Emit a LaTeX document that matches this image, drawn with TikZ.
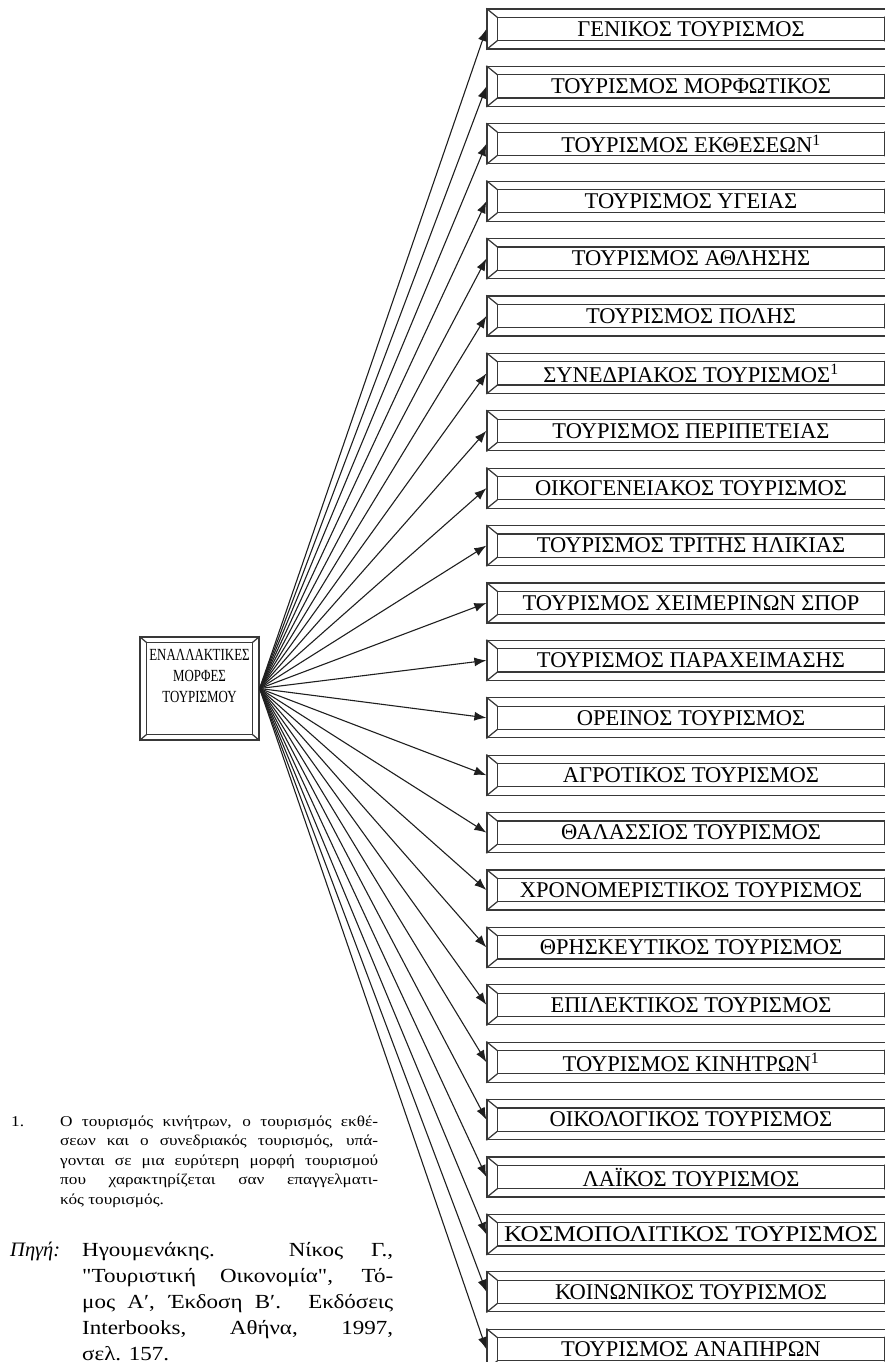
\documentclass[tikz,border=0pt]{standalone}
\usepackage{fontspec}
\setmainfont{Liberation Serif}
\newfontfamily\notefont[FakeStretch=1.15, Ligatures=TeXOff]{Liberation Serif}
\usetikzlibrary{arrows.meta}

% draws the inner frame and the corner mitres of a bevelled box
\newcommand\bevelframe[3]{%
  \draw[frame] ([shift={(#2,#3)}]#1.north west) rectangle ([shift={(-#2,-#3)}]#1.south east);
  \draw[frame] (#1.north west) -- ([shift={(#2,#3)}]#1.north west);
  \draw[frame] (#1.north east) -- ([shift={(-#2,#3)}]#1.north east);
  \draw[frame] (#1.south west) -- ([shift={(#2,-#3)}]#1.south west);
  \draw[frame] (#1.south east) -- ([shift={(-#2,-#3)}]#1.south east);
}
\newcommand\narrow[1]{\scalebox{0.76}[1]{#1}}

\begin{document}
\begin{tikzpicture}[x=1pt,y=-1pt,
  frame/.style={draw=black!78, line width=1.25pt},
  formbox/.style={frame, rectangle, minimum width=408pt, minimum height=40pt,
    inner sep=0pt, font=\fontsize{22.5}{24}\selectfont},
  rootbox/.style={frame, rectangle, minimum width=119pt, minimum height=103pt,
    align=center, inner sep=0pt, font=\fontsize{17}{21}\selectfont},
  link/.style={draw=black!88, line width=1.1pt, -{Latex[length=12pt,width=9pt]}},
  note/.style={anchor=base west, inner sep=0pt, align=left},
]
\useasboundingbox (0,0) rectangle (885,1362);
\clip (0,0) rectangle (885,1362);

% root of the fan
\node[rootbox] (c) at (199.5,688.5) {\narrow{ΕΝΑΛΛΑΚΤΙΚΕΣ}\\
  \narrow{ΜΟΡΦΕΣ}\\ \narrow{ΤΟΥΡΙΣΜΟΥ}\\[4pt]};
\bevelframe{c}{7}{6}

% the forms of tourism
\foreach \t [count=\i from 0] in {
  ΓΕΝΙΚΟΣ ΤΟΥΡΙΣΜΟΣ,
  ΤΟΥΡΙΣΜΟΣ ΜΟΡΦΩΤΙΚΟΣ,
  ΤΟΥΡΙΣΜΟΣ ΕΚΘΕΣΕΩΝ\textsuperscript{1},
  ΤΟΥΡΙΣΜΟΣ ΥΓΕΙΑΣ,
  ΤΟΥΡΙΣΜΟΣ ΑΘΛΗΣΗΣ,
  ΤΟΥΡΙΣΜΟΣ ΠΟΛΗΣ,
  ΣΥΝΕΔΡΙΑΚΟΣ ΤΟΥΡΙΣΜΟΣ\textsuperscript{1},
  ΤΟΥΡΙΣΜΟΣ ΠΕΡΙΠΕΤΕΙΑΣ,
  ΟΙΚΟΓΕΝΕΙΑΚΟΣ ΤΟΥΡΙΣΜΟΣ,
  ΤΟΥΡΙΣΜΟΣ ΤΡΙΤΗΣ ΗΛΙΚΙΑΣ,
  ΤΟΥΡΙΣΜΟΣ ΧΕΙΜΕΡΙΝΩΝ ΣΠΟΡ,
  ΤΟΥΡΙΣΜΟΣ ΠΑΡΑΧΕΙΜΑΣΗΣ,
  ΟΡΕΙΝΟΣ ΤΟΥΡΙΣΜΟΣ,
  ΑΓΡΟΤΙΚΟΣ ΤΟΥΡΙΣΜΟΣ,
  ΘΑΛΑΣΣΙΟΣ ΤΟΥΡΙΣΜΟΣ,
  ΧΡΟΝΟΜΕΡΙΣΤΙΚΟΣ ΤΟΥΡΙΣΜΟΣ,
  ΘΡΗΣΚΕΥΤΙΚΟΣ ΤΟΥΡΙΣΜΟΣ,
  ΕΠΙΛΕΚΤΙΚΟΣ ΤΟΥΡΙΣΜΟΣ,
  ΤΟΥΡΙΣΜΟΣ ΚΙΝΗΤΡΩΝ\textsuperscript{1},
  ΟΙΚΟΛΟΓΙΚΟΣ ΤΟΥΡΙΣΜΟΣ,
  ΛΑΪΚΟΣ ΤΟΥΡΙΣΜΟΣ,
  \scalebox{1.12}[1]{ΚΟΣΜΟΠΟΛΙΤΙΚΟΣ ΤΟΥΡΙΣΜΟΣ},
  ΚΟΙΝΩΝΙΚΟΣ ΤΟΥΡΙΣΜΟΣ,
  ΤΟΥΡΙΣΜΟΣ ΑΝΑΠΗΡΩΝ}
{
  \node[formbox] (b\i) at (691,{29+57.4*\i}) {\t};
  \bevelframe{b\i}{11}{9}
  \draw[link] (c.east) -- (b\i.west);
}

% footnote (a multi-line node sits on the baseline of its last line)
\node[note, font=\fontsize{15}{19.5}\notefont] (fnum) at (11,1126) {1.};
\node[note, font=\fontsize{15}{19.5}\notefont] (fnote) at (60,1204) {%
  \makebox[318pt][s]{Ο τουρισμός κινήτρων, ο τουρισμός εκθέ-}\\
  \makebox[318pt][s]{σεων και ο συνεδριακός τουρισμός, υπά-}\\
  \makebox[318pt][s]{γονται σε μια ευρύτερη μορφή τουρισμού}\\
  \makebox[318pt][s]{που χαρακτηρίζεται σαν επαγγελματι-}\\
  κός τουρισμός.};

% source
\node[note, font=\fontsize{20.5}{26}\selectfont\itshape] (slabel) at (10,1256) {Πηγή:};
\node[note, font=\fontsize{20}{26}\notefont] (src) at (82,1360) {%
  \makebox[311pt][s]{Ηγουμενάκης. Νίκος Γ.,}\\
  \makebox[311pt][s]{"Τουριστική Οικονομία", Τό-}\\
  \makebox[311pt][s]{μος Αʹ, Έκδοση Βʹ. Εκδόσεις}\\
  \makebox[311pt][s]{Interbooks, Αθήνα, 1997,}\\
  σελ. 157.};
\end{tikzpicture}
\end{document}
